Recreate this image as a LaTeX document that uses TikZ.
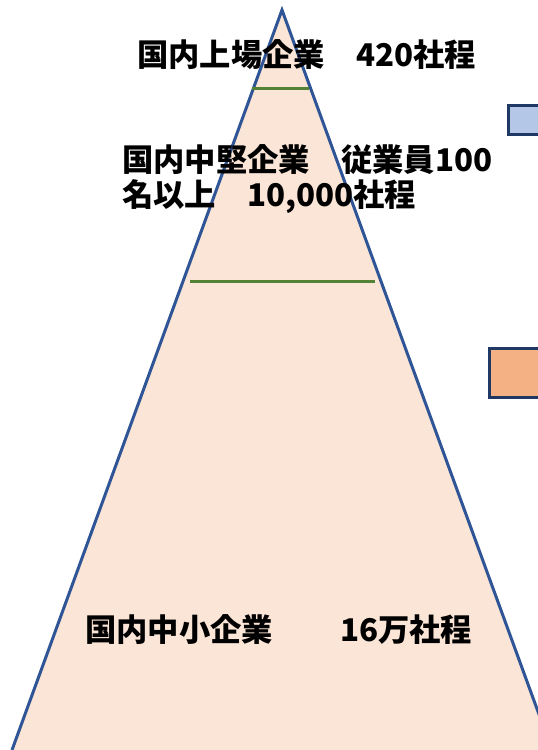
\documentclass[tikz,border=0pt]{standalone}
\usepackage{fontspec}
\newfontfamily\cjk{Noto Sans CJK JP}
\definecolor{trifill}{HTML}{FBE5D6}
\definecolor{triline}{HTML}{2F5597}
\definecolor{greenline}{HTML}{548235}
\definecolor{bluefill}{HTML}{B4C7E7}
\definecolor{orangefill}{HTML}{F4B183}
\definecolor{navy}{HTML}{203864}
\tikzset{
  lbl/.style={anchor=west, inner sep=0pt, font=\cjk\bfseries\fontsize{31.3}{37}\selectfont, text=black},
  tier/.style={draw=greenline, line width=3pt},
  legend/.style={draw=navy, line width=3pt}
}
\begin{document}
\begin{tikzpicture}[x=1pt,y=-1pt]
\useasboundingbox (0,0) rectangle (538,750);
\clip (0,0) rectangle (538,750);
\coordinate (apex) at (282,10);
\coordinate (bl) at (12,750);
\coordinate (br) at (552,750);
\draw[fill=trifill, draw=triline, line width=3pt, line join=miter] (bl) -- (apex) -- (br);
\coordinate (g1l) at (252,88);
\coordinate (g1r) at (309,88);
\coordinate (g2l) at (190,281);
\coordinate (g2r) at (375,281);
\draw[tier] (g1l) -- (g1r);
\draw[tier] (g2l) -- (g2r);
\node[legend, fill=bluefill, minimum width=60pt, minimum height=29pt, anchor=north west, inner sep=0pt] (blue) at (507,104) {};
\node[legend, fill=orangefill, minimum width=70pt, minimum height=49pt, anchor=north west, inner sep=0pt] (orange) at (488,347) {};
\node[lbl] (t1) at (137,55) {国内上場企業\quad 420社程};
\node[lbl] (t2) at (122,160) {国内中堅企業\quad 従業員100};
\node[lbl] (t3) at (122,197) {名以上\quad 10,000社程};
\node[lbl] (t4) at (85,630) {国内中小企業\hspace{2.15em}16万社程};
\end{tikzpicture}
\end{document}
